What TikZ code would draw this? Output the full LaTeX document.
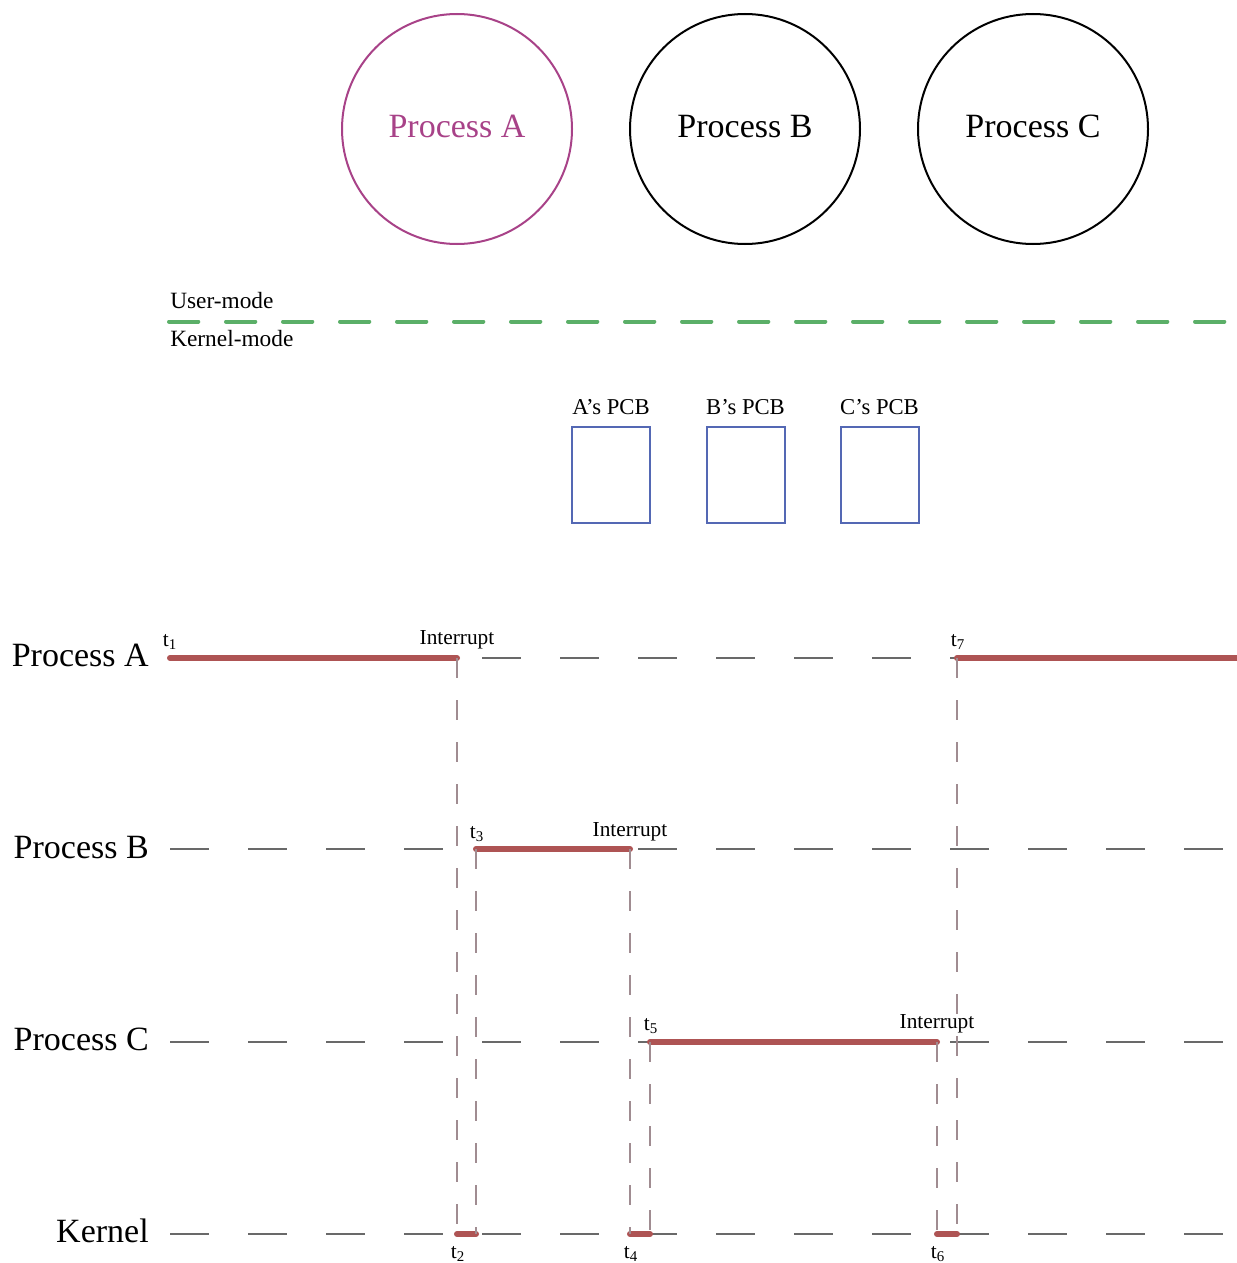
\documentclass[tikz,border=0pt]{standalone}
\usepackage{fontspec}
\setmainfont{Liberation Serif}
\definecolor{procpink}{RGB}{168,66,136}
\definecolor{modegreen}{RGB}{91,175,104}
\definecolor{pcbblue}{RGB}{84,104,180}
\definecolor{runred}{RGB}{174,84,84}
\definecolor{idlegray}{RGB}{105,105,105}
\definecolor{switchgray}{RGB}{160,140,145}
\begin{document}
\begin{tikzpicture}[x=0.75pt,y=0.75pt,yscale=-1,xscale=1,
    proc/.style={draw, circle, line width=1.5pt, minimum size=172.5pt, inner sep=0pt, text depth=4.5pt, font=\fontsize{25.5}{30}\selectfont},
    pcb/.style={draw=pcbblue, line width=1.5pt, minimum width=58.5pt, minimum height=72pt, inner sep=0pt},
    pcbtext/.style={font=\fontsize{17}{20}\selectfont, inner sep=0pt, anchor=base},
    modetext/.style={font=\fontsize{17.5}{21}\selectfont, inner sep=0pt, anchor=base west},
    rowtext/.style={font=\fontsize{25.5}{30}\selectfont, inner sep=0pt, anchor=base east},
    intr/.style={font=\fontsize{16}{19}\selectfont, inner sep=0pt, anchor=base},
    tlabel/.style={font=\fontsize{16}{19}\selectfont, inner sep=0pt, anchor=base},
    modeline/.style={draw=modegreen, line width=3pt, line cap=round, dash pattern=on 22pt off 20.75pt},
    idle/.style={draw=idlegray, line width=1.2pt, dash pattern=on 29.25pt off 29.25pt},
    run/.style={draw=runred, line width=4.5pt, line cap=round},
    switch/.style={draw=switchgray, line width=1.9pt, dash pattern=on 15pt off 16.5pt}
  ]
  \useasboundingbox (0,0) rectangle (1237,1263);

  %Shape: Circle
  \node[proc, draw=procpink, text=procpink] (procA) at (457,129) {Process A};
  \node[proc] (procB) at (745,129) {Process B};
  \node[proc] (procC) at (1033,129) {Process C};

  %Straight Lines: user / kernel boundary
  \coordinate (mstart) at (169,321.5);
  \coordinate (mend) at (1237,321.5);
  \draw[modeline] (mstart) -- (mend);
  \node[modetext] (user) at (170,308) {User-mode};
  \node[modetext] (kern) at (170,346.5) {Kernel-mode};

  %Shape: Rectangle
  \node[pcb] (pcbA) at (611,475) {};
  \node[pcb] (pcbB) at (745.5,475) {};
  \node[pcb] (pcbC) at (879.5,475) {};
  \node[pcbtext] (pcbAtxt) at (611,414) {A’s PCB};
  \node[pcbtext] (pcbBtxt) at (745.5,414) {B’s PCB};
  \node[pcbtext] (pcbCtxt) at (879.5,414) {C’s PCB};

  %row names
  \node[rowtext] (rowA) at (149,666) {Process A};
  \node[rowtext] (rowB) at (149,858) {Process B};
  \node[rowtext] (rowC) at (149,1050) {Process C};
  \node[rowtext] (rowK) at (149,1242) {Kernel};

  %time points
  \coordinate (a0) at (170,658);   \coordinate (a1) at (1237,658);
  \coordinate (b0) at (170,849);   \coordinate (b1) at (1237,849);
  \coordinate (c0) at (170,1042);  \coordinate (c1) at (1237,1042);
  \coordinate (k0) at (170,1234);  \coordinate (k1) at (1237,1234);
  \coordinate (t2a) at (457,658);  \coordinate (t7a) at (957,658);
  \coordinate (t3b) at (476,849);  \coordinate (t4b) at (630,849);
  \coordinate (t5c) at (650,1042); \coordinate (t6c) at (937,1042);
  \coordinate (t2k) at (457,1234); \coordinate (t3k) at (476,1234);
  \coordinate (t4k) at (630,1234); \coordinate (t5k) at (650,1234);
  \coordinate (t6k) at (937,1234); \coordinate (t7k) at (957,1234);

  %Straight Lines: idle rows
  \draw[idle] (a0) -- (a1);
  \draw[idle] (b0) -- (b1);
  \draw[idle] (c0) -- (c1);
  \draw[idle] (k0) -- (k1);

  %Straight Lines: running
  \draw[run] (a0) -- (t2a);
  \draw[run] (t7a) -- (a1);
  \draw[run] (t3b) -- (t4b);
  \draw[run] (t5c) -- (t6c);
  \draw[run] (t2k) -- (t3k);
  \draw[run] (t4k) -- (t5k);
  \draw[run] (t6k) -- (t7k);

  %Straight Lines: context switches
  \draw[switch] (t2a) -- (t2k);
  \draw[switch] (t3b) -- (t3k);
  \draw[switch] (t4b) -- (t4k);
  \draw[switch] (t5c) -- (t5k);
  \draw[switch] (t6c) -- (t6k);
  \draw[switch] (t7a) -- (t7k);

  %labels
  \node[intr] (intA) at (457,644) {Interrupt};
  \node[intr] (intB) at (630,836) {Interrupt};
  \node[intr] (intC) at (937,1028) {Interrupt};
  \node[tlabel] (lt1) at (170,646) {t\textsubscript{1}};
  \node[tlabel] (lt7) at (958,646) {t\textsubscript{7}};
  \node[tlabel] (lt3) at (477,838) {t\textsubscript{3}};
  \node[tlabel] (lt5) at (651,1030) {t\textsubscript{5}};
  \node[tlabel] (lt2) at (458,1258) {t\textsubscript{2}};
  \node[tlabel] (lt4) at (631,1258) {t\textsubscript{4}};
  \node[tlabel] (lt6) at (938,1258) {t\textsubscript{6}};
\end{tikzpicture}
\end{document}
